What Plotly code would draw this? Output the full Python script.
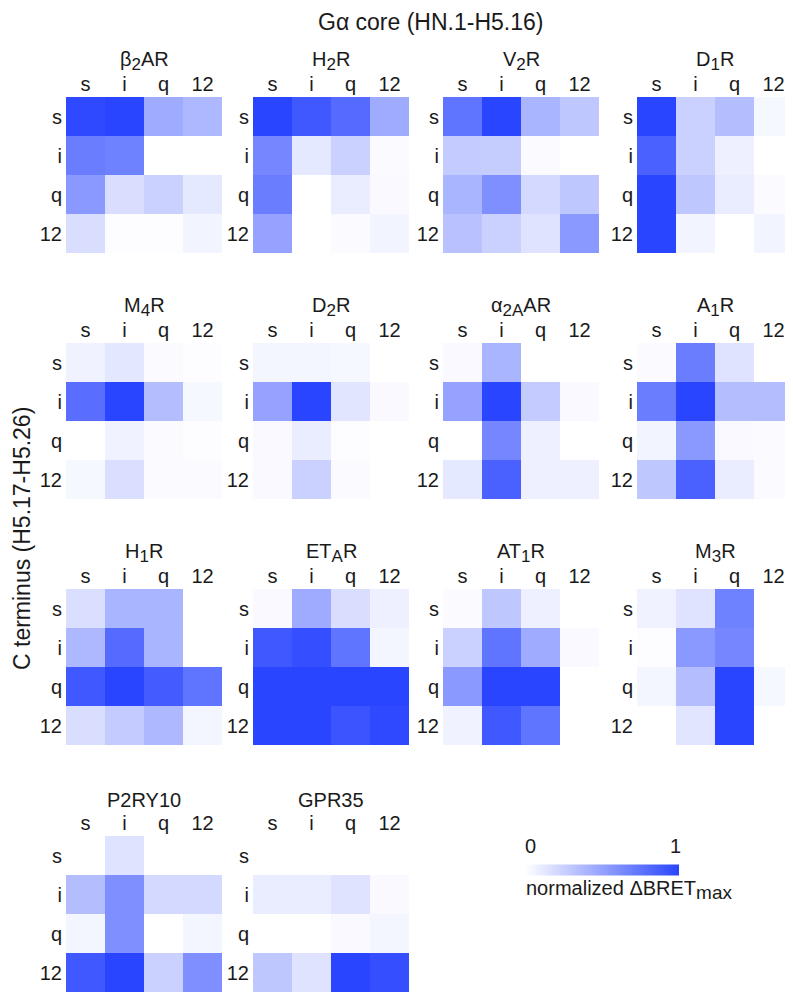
import plotly.graph_objects as go

# G alpha core (columns) and C terminus (rows)
core_labels = ['s', 'i', 'q', '12']
cterm_labels = ['s', 'i', 'q', '12']
cbar_ticks = [0, 1]


def sub(t):
    return '<sub><span style="font-size:17px">' + t + '</span></sub>'


receptors = ['β' + sub('2') + 'AR', 'H' + sub('2') + 'R', 'V' + sub('2') + 'R', 'D' + sub('1') + 'R',
             'M' + sub('4') + 'R', 'D' + sub('2') + 'R', 'α' + sub('2A') + 'AR', 'A' + sub('1') + 'R',
             'H' + sub('1') + 'R', 'ET' + sub('A') + 'R', 'AT' + sub('1') + 'R', 'M' + sub('3') + 'R',
             'P2RY10', 'GPR35']

b2ar = [[0.98, 1.00, 0.45, 0.38],
        [0.70, 0.68, 0.00, 0.00],
        [0.55, 0.18, 0.25, 0.12],
        [0.18, 0.01, 0.01, 0.06]]
h2r = [[1.00, 0.90, 0.80, 0.45],
       [0.65, 0.12, 0.25, 0.02],
       [0.70, 0.00, 0.10, 0.03],
       [0.50, 0.00, 0.02, 0.06]]
v2r = [[0.75, 1.00, 0.40, 0.30],
       [0.28, 0.27, 0.02, 0.00],
       [0.40, 0.60, 0.20, 0.30],
       [0.33, 0.25, 0.15, 0.55]]
d1r = [[1.00, 0.25, 0.35, 0.04],
       [0.85, 0.25, 0.08, 0.00],
       [1.00, 0.30, 0.10, 0.02],
       [1.00, 0.06, 0.00, 0.06]]
m4r = [[0.07, 0.13, 0.02, 0.01],
       [0.78, 1.00, 0.35, 0.04],
       [0.00, 0.07, 0.02, 0.01],
       [0.04, 0.17, 0.02, 0.02]]
d2r = [[0.05, 0.05, 0.04, 0.00],
       [0.50, 1.00, 0.14, 0.03],
       [0.03, 0.10, 0.01, 0.00],
       [0.03, 0.25, 0.02, 0.00]]
a2aar = [[0.03, 0.40, 0.00, 0.00],
         [0.50, 1.00, 0.28, 0.03],
         [0.00, 0.65, 0.08, 0.00],
         [0.12, 0.85, 0.08, 0.08]]
a1r = [[0.02, 0.70, 0.15, 0.00],
       [0.70, 1.00, 0.35, 0.35],
       [0.06, 0.55, 0.03, 0.02],
       [0.30, 0.85, 0.10, 0.02]]
h1r = [[0.17, 0.40, 0.40, 0.00],
       [0.38, 0.80, 0.40, 0.00],
       [0.90, 1.00, 0.88, 0.75],
       [0.18, 0.28, 0.38, 0.05]]
etar = [[0.03, 0.45, 0.18, 0.08],
        [0.90, 0.95, 0.75, 0.05],
        [1.00, 1.00, 1.00, 1.00],
        [1.00, 1.00, 0.92, 0.98]]
at1r = [[0.02, 0.30, 0.08, 0.00],
        [0.25, 0.75, 0.45, 0.03],
        [0.55, 1.00, 1.00, 0.00],
        [0.07, 0.90, 0.75, 0.00]]
m3r = [[0.07, 0.15, 0.68, 0.00],
       [0.01, 0.55, 0.65, 0.00],
       [0.05, 0.35, 1.00, 0.04],
       [0.00, 0.14, 1.00, 0.00]]
p2ry10 = [[0.00, 0.15, 0.00, 0.00],
          [0.35, 0.60, 0.20, 0.20],
          [0.05, 0.60, 0.00, 0.05],
          [0.90, 1.00, 0.25, 0.60]]
gpr35 = [[0.00, 0.00, 0.00, 0.00],
         [0.10, 0.10, 0.15, 0.03],
         [0.00, 0.00, 0.03, 0.05],
         [0.30, 0.15, 1.00, 0.95]]

matrices = [b2ar, h2r, v2r, d1r, m4r, d2r, a2aar, a1r,
            h1r, etar, at1r, m3r, p2ry10, gpr35]

# page has an 8px body margin, so lay out in page pixels and shift
OFF = 8
W, H = 793 - OFF, 992 - OFF
FONT = 'Liberation Sans, Arial, sans-serif'
TXT = '#1a1a1a'
col_px = [66, 253, 443, 637]
row_px = [97, 343, 589, 836]
size = 156
blue_scale = [[0, '#ffffff'], [1, '#2a45ff']]


def px(x):
    return (x - OFF) / W


def py_(y):
    return 1 - (y - OFF) / H


fig = go.Figure()
layout = {}
annotations = []
tick_font = dict(size=20, family=FONT, color=TXT)

for k, (name, z) in enumerate(zip(receptors, matrices)):
    r, c = divmod(k, 4)
    x0, y0 = col_px[c], row_px[r]
    n = '' if k == 0 else str(k + 1)
    trace = go.Heatmap(
        z=z, x=core_labels, y=cterm_labels,
        zmin=0, zmax=1, colorscale=blue_scale,
        xaxis='x' + n, yaxis='y' + n,
        showscale=(k == 0),
        hovertemplate='core %{x}<br>C term %{y}<br>%{z:.2f}<extra></extra>',
    )
    if k == 0:
        trace.colorbar = dict(
            orientation='h', x=px(602), xanchor='center',
            y=py_(869.5), yanchor='middle',
            len=154, lenmode='pixels', thickness=11,
            xpad=0, ypad=0, outlinewidth=0,
            tickvals=cbar_ticks, ticks='', showticklabels=False,
        )
    fig.add_trace(trace)

    layout['xaxis' + n] = dict(
        domain=[px(x0), px(x0 + size)], anchor='y' + n, side='top',
        showgrid=False, zeroline=False, showline=False, ticks='',
        ticklabelstandoff=1, tickfont=tick_font, fixedrange=True,
    )
    layout['yaxis' + n] = dict(
        domain=[py_(y0 + size), py_(y0)], anchor='x' + n,
        autorange='reversed',
        showgrid=False, zeroline=False, showline=False, ticks='',
        ticklabelstandoff=3, tickfont=tick_font, fixedrange=True,
    )
    annotations.append(dict(
        text=name, x=px(x0 + size / 2), y=py_(y0 - 36),
        xref='paper', yref='paper', xanchor='center', yanchor='middle',
        showarrow=False, font=dict(size=20, family=FONT, color=TXT),
    ))

# colorbar labels
for v, xp in zip(cbar_ticks, [530, 675]):
    annotations.append(dict(
        text=str(v), x=px(xp), y=py_(846),
        xref='paper', yref='paper', xanchor='center', yanchor='middle',
        showarrow=False, font=dict(size=20, family=FONT, color=TXT),
    ))
annotations.append(dict(
    text='normalized ΔBRET<sub><span style="font-size:19px">max</span></sub>',
    x=px(524), y=py_(890),
    xref='paper', yref='paper', xanchor='left', yanchor='middle',
    showarrow=False, font=dict(size=20, family=FONT, color=TXT),
))

annotations.append(dict(
    text='Gα core (HN.1-H5.16)', x=px(430), y=py_(22),
    xref='paper', yref='paper', xanchor='center', yanchor='middle',
    showarrow=False, font=dict(size=23, family=FONT, color=TXT),
))
annotations.append(dict(
    text='C terminus (H5.17-H5.26)', x=px(22), y=py_(539), textangle=-90,
    xref='paper', yref='paper', xanchor='center', yanchor='middle',
    showarrow=False, font=dict(size=23, family=FONT, color=TXT),
))

fig.update_layout(
    width=W, height=H,
    margin=dict(l=0, r=0, t=0, b=0),
    paper_bgcolor='white', plot_bgcolor='white',
    font=dict(family=FONT, color=TXT),
    annotations=annotations,
    **layout,
)

fig.write_html("out.html")
